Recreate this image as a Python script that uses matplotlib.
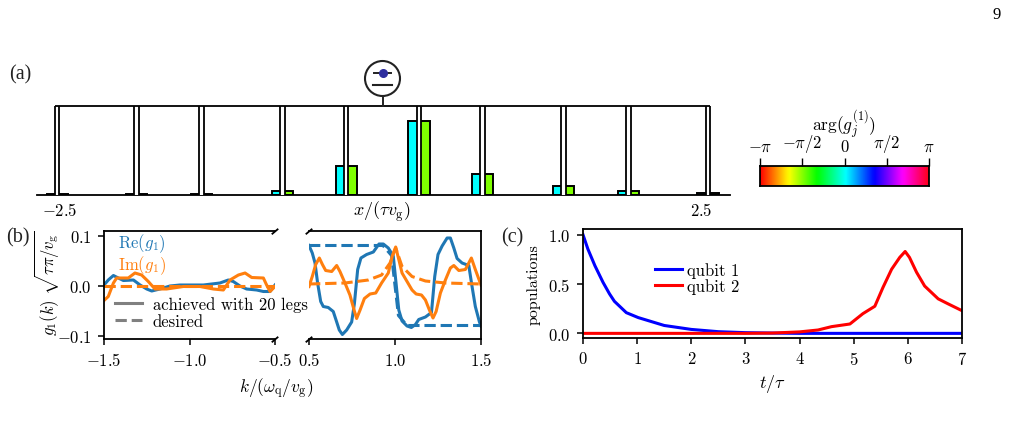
import numpy as np
import matplotlib
matplotlib.use("Agg")
import matplotlib.pyplot as plt
from matplotlib.patches import Circle

plt.rcParams["font.family"] = ["cmr10", "DejaVu Serif"]
plt.rcParams["mathtext.fontset"] = "cm"
plt.rcParams["axes.unicode_minus"] = False
plt.rcParams["axes.formatter.use_mathtext"] = True
plt.rcParams["font.size"] = 12

# couplings of the giant atom legs
leg_x = [-2.5, -1.89, -1.39, -0.77, -0.28, 0.28, 0.77, 1.39, 1.89, 2.5]
leg_amp = [0.007, 0.007, 0.02, 0.06, 0.39, 1.0, 0.28, 0.125, 0.06, 0.025]

# coupling spectrum, negative k
k_neg_re = [-1.5, -1.475, -1.445, -1.416, -1.387, -1.328, -1.289, -1.25, -1.221, -1.173, -1.114, -1.056,
            -0.997, -0.919, -0.822, -0.773, -0.744, -0.705, -0.666, -0.607, -0.568, -0.529, -0.5]
re_neg = [0.001, 0.011, 0.02, 0.015, 0.01, 0.011, 0.001, -0.007, -0.011, -0.007, -0.001, 0.001,
          0.001, 0.001, 0.005, 0.011, 0.008, -0.001, -0.007, -0.009, -0.012, -0.012, 0.001]
k_neg_im = [-1.5, -1.475, -1.445, -1.426, -1.358, -1.319, -1.28, -1.241, -1.202, -1.134, -1.036,
            -0.939, -0.861, -0.802, -0.763, -0.714, -0.675, -0.636, -0.568, -0.549, -0.529, -0.5]
im_neg = [-0.03, -0.022, 0.005, 0.015, 0.015, 0.025, 0.021, 0.008, -0.007, -0.007, -0.002,
          -0.002, -0.007, -0.009, 0.011, 0.021, 0.025, 0.016, 0.015, 0.001, -0.012, -0.002]

# coupling spectrum, positive k
k_pos_re = [0.5, 0.519, 0.535, 0.55, 0.568, 0.583, 0.612, 0.641, 0.661, 0.676, 0.694, 0.719, 0.748, 0.764,
            0.783, 0.802, 0.835, 0.874, 0.907, 0.932, 0.961, 0.99, 1.006, 1.022, 1.041, 1.07, 1.095, 1.119,
            1.138, 1.177, 1.212, 1.231, 1.25, 1.274, 1.303, 1.322, 1.342, 1.361, 1.39, 1.429, 1.448, 1.467,
            1.491, 1.5]
re_pos = [0.08, 0.065, 0.045, 0.005, -0.032, -0.042, -0.044, -0.052, -0.073, -0.089, -0.098, -0.089, -0.073,
          -0.036, 0.032, 0.055, 0.062, 0.067, 0.083, 0.083, 0.075, 0.059, 0.005, -0.049, -0.071, -0.081,
          -0.084, -0.078, -0.068, -0.063, -0.054, 0.018, 0.062, 0.079, 0.095, 0.095, 0.075, 0.054, 0.045,
          0.04, -0.002, -0.042, -0.073, -0.081]
k_pos_im = [0.5, 0.519, 0.539, 0.56, 0.578, 0.597, 0.632, 0.661, 0.68, 0.709, 0.738, 0.762, 0.777, 0.797,
            0.822, 0.855, 0.888, 0.922, 0.961, 0.984, 1.004, 1.022, 1.041, 1.07, 1.099, 1.123, 1.154, 1.177,
            1.2, 1.221, 1.239, 1.264, 1.293, 1.322, 1.342, 1.371, 1.409, 1.444, 1.467, 1.5]
im_pos = [-0.002, 0.018, 0.042, 0.055, 0.042, 0.03, 0.028, 0.04, 0.028, 0.005, -0.019, -0.049, -0.066, -0.049,
          -0.026, -0.017, -0.015, 0.005, 0.025, 0.059, 0.077, 0.052, 0.025, 0.008, -0.009, -0.017, -0.019,
          -0.029, -0.049, -0.065, -0.052, -0.015, 0.011, 0.035, 0.04, 0.03, 0.032, 0.055, 0.032, 0.001]

# target spectrum
k_target_re = [0.5, 0.93, 0.98, 1.0, 1.02, 1.07, 1.5]
re_target = [0.08, 0.08, 0.06, 0.0, -0.06, -0.08, -0.08]
k_target_im = [0.5, 0.709, 0.845, 0.922, 0.971, 1.004, 1.041, 1.099, 1.177, 1.293, 1.5]
im_target = [0.003, 0.005, 0.011, 0.021, 0.045, 0.075, 0.038, 0.018, 0.009, 0.005, 0.003]

# qubit populations
t_q1 = [0, 0.09, 0.22, 0.37, 0.49, 0.58, 0.8, 1.02, 1.26, 1.5, 2, 2.5, 3, 3.5, 4, 7]
pop_q1 = [1.0, 0.855, 0.686, 0.517, 0.4, 0.325, 0.21, 0.16, 0.12, 0.08, 0.04, 0.017, 0.007, 0.003, 0.0, 0.0]
t_q2 = [0, 3, 3.5, 4, 4.34, 4.59, 4.93, 5.17, 5.39, 5.54, 5.7, 5.85, 5.95, 6.03, 6.16, 6.31, 6.56, 6.74, 7]
pop_q2 = [0.0, 0.0, 0.003, 0.015, 0.034, 0.068, 0.095, 0.2, 0.275, 0.465, 0.65, 0.77, 0.83, 0.77, 0.62,
          0.48, 0.35, 0.3, 0.23]

W, H = 1009, 431
fig = plt.figure(figsize=(W / 100, H / 100), dpi=100)


def px_axes(x0, y0, x1, y1):
    # axes from pixel edges, y counted from the top
    return fig.add_axes([x0 / W, 1 - y1 / H, (x1 - x0) / W, (y1 - y0) / H])


BLUE = "#1f77b4"
ORANGE = "#ff7f0e"
LW = 2.2

# (a) legs and coupling bars
ax = px_axes(37, 107, 730, 196)
ax.set_xlim(-2.654, 2.669)
ax.set_ylim(0, 1.203)
for s in ["top", "left", "right"]:
    ax.spines[s].set_visible(False)
ax.spines["bottom"].set_linewidth(1.3)
ax.set_xticks([])
ax.set_yticks([])
bar_w = 0.081
ax.bar(np.array(leg_x) - bar_w / 2, leg_amp, bar_w, color="#00ffff", edgecolor="k", linewidth=1.4)
ax.bar(np.array(leg_x) + bar_w / 2, leg_amp, bar_w, color="#7fff00", edgecolor="k", linewidth=1.4)
for x in leg_x:
    ax.fill_betweenx([0, 1.2], x - 0.018, x + 0.018, color="w", zorder=3, lw=0)
    ax.vlines([x - 0.018, x + 0.018], 0, 1.2, color="k", lw=1.3, zorder=4)
ax.hlines(1.2, -2.518, 2.518, color="k", lw=1.3, zorder=4, clip_on=False)

# colour scale for the phase
cax = px_axes(760, 167, 929, 187)
cax.imshow(np.linspace(-np.pi, np.pi, 256).reshape(1, -1), cmap="hsv", aspect="auto",
           extent=[-np.pi, np.pi, 0, 1])
cax.set_yticks([])
cax.xaxis.tick_top()
cax.set_xticks([-np.pi, -np.pi / 2, 0, np.pi / 2, np.pi])
cax.set_xticklabels([r"$-\pi$", r"$-\pi/2$", r"$0$", r"$\pi/2$", r"$\pi$"], fontsize=12)
cax.tick_params(axis="x", length=5.5, width=1, pad=3)
for s in cax.spines.values():
    s.set_linewidth(1.3)

# (b) spectrum, split around k = 0
axr = px_axes(309, 232, 481, 340)
axl = px_axes(104, 232, 275, 340)
axl.patch.set_alpha(0)
axl.plot(k_neg_re, re_neg, color=BLUE, lw=LW)
axl.plot(k_neg_im, im_neg, color=ORANGE, lw=LW)
axl.plot([-1.5, -0.5], [0, 0], color=ORANGE, lw=LW, ls="--")
axr.plot(k_target_re, re_target, color=BLUE, lw=LW, ls="--")
axr.plot(k_pos_re, re_pos, color=BLUE, lw=LW)
axr.plot(k_pos_im, im_pos, color=ORANGE, lw=LW)
axr.plot(k_target_im, im_target, color=ORANGE, lw=LW, ls="--")
axl.set_xlim(-1.5, -0.5)
axr.set_xlim(0.5, 1.5)
for a in (axl, axr):
    a.set_ylim(-0.107, 0.109)
    for s in a.spines.values():
        s.set_linewidth(1.3)
axl.spines["right"].set_visible(False)
axr.spines["left"].set_visible(False)
axr.set_yticks([])
axl.set_yticks([-0.1, 0, 0.1])
axl.set_yticklabels([r"$-0.1$", r"$0.0$", r"$0.1$"], fontsize=12)
axl.set_xticks([-1.5, -1, -0.5])
axl.set_xticklabels([r"$-1.5$", r"$-1.0$", r"$-0.5$"], fontsize=12)
axr.set_xticks([0.5, 1, 1.5])
axr.set_xticklabels([r"$0.5$", r"$1.0$", r"$1.5$"], fontsize=12)
for a in (axl, axr):
    a.tick_params(length=4, width=1.1, pad=5)

# break marks on the split axis
for a, xb in ((axl, 1.0), (axr, 0.0)):
    for yb in (0.0, 1.0):
        a.plot([xb - 0.015, xb + 0.015], [yb - 0.025, yb + 0.015], transform=a.transAxes,
               color="k", lw=1.3, clip_on=False)

axl.plot([], [], color="gray", lw=LW, label="achieved with 20 legs")
axl.plot([], [], color="gray", lw=LW, ls="--", label="desired")
axl.legend(loc="upper left", bbox_to_anchor=(0.064, 0.40), frameon=False, fontsize=12, handlelength=1.6,
           handletextpad=0.66, labelspacing=0.1, borderpad=0, borderaxespad=0)

# (c) populations
axc = px_axes(583, 230, 962, 339)
axc.plot(t_q1, pop_q1, color="b", lw=LW, label="qubit 1")
axc.plot(t_q2, pop_q2, color="r", lw=LW, label="qubit 2")
axc.set_xlim(0, 7)
axc.set_ylim(-0.047, 1.058)
axc.set_xticks(range(8))
axc.set_xticklabels([f"${i}$" for i in range(8)], fontsize=12)
axc.set_yticks([0, 0.5, 1])
axc.set_yticklabels([r"$0.0$", r"$0.5$", r"$1.0$"], fontsize=12)
axc.tick_params(length=4, width=1.1, pad=5)
for s in axc.spines.values():
    s.set_linewidth(1.3)
axc.set_xlabel(r"$t/\tau$", fontsize=13, labelpad=3)
axc.set_ylabel("populations", fontsize=11.5, labelpad=5)
axc.legend(loc="upper left", bbox_to_anchor=(0.19, 0.70), frameon=False, fontsize=12, handlelength=1.6,
           handletextpad=0.3, labelspacing=0.05, borderpad=0, borderaxespad=0)

# overlay in pixel coordinates: qubit sketch and free labels
ov = fig.add_axes([0, 0, 1, 1], zorder=10)
ov.set_xlim(0, W)
ov.set_ylim(H, 0)
ov.axis("off")
ov.patch.set_alpha(0)
ov.add_patch(Circle((382.5, 79.5), 17.5, fill=False, ec="#222222", lw=1.5))
ov.plot([382.5, 382.5], [97, 107], color="#222222", lw=1.4)
ov.plot([374, 391], [73.5, 73.5], color="#222222", lw=1.4)
ov.plot([373, 392], [85.7, 85.7], color="#222222", lw=1.5)
ov.plot([382.5], [73.5], "o", color="#2e2e9e", ms=5.5)

serif = ["Liberation Serif"]
ov.text(997, 15, "9", ha="center", va="center", family=serif, fontsize=12)
ov.text(20, 75, "(a)", ha="center", va="center", family=serif, fontsize=14.5, color="#222222")
ov.text(18, 238, "(b)", ha="center", va="center", family=serif, fontsize=14.5, color="#222222")
ov.text(512, 238, "(c)", ha="center", va="center", family=serif, fontsize=14.5, color="#222222")
ov.text(60, 211, r"$-2.5$", ha="center", va="center", fontsize=12)
ov.text(701, 211, r"$2.5$", ha="center", va="center", fontsize=12)
ov.text(382, 212, r"$x/(\tau v_\mathrm{g})$", ha="center", va="center", fontsize=13)
ov.text(844, 125, r"$\mathrm{arg}(g_j^{(1)})$", ha="center", va="center", fontsize=12.5)
ov.text(142, 244, r"$\mathrm{Re}(g_1)$", ha="center", va="center", fontsize=12, color=BLUE)
ov.text(142, 266, r"$\mathrm{Im}(g_1)$", ha="center", va="center", fontsize=12, color=ORANGE)
ov.text(47, 283, r"$g_1(k)\ \sqrt{\tau\pi/v_\mathrm{g}}$", rotation=90, ha="center", va="center", fontsize=12)
ov.text(276, 389, r"$k/(\omega_\mathrm{q}/v_\mathrm{g})$", ha="center", va="center", fontsize=12.5)

fig.savefig("out.png", dpi=100)
